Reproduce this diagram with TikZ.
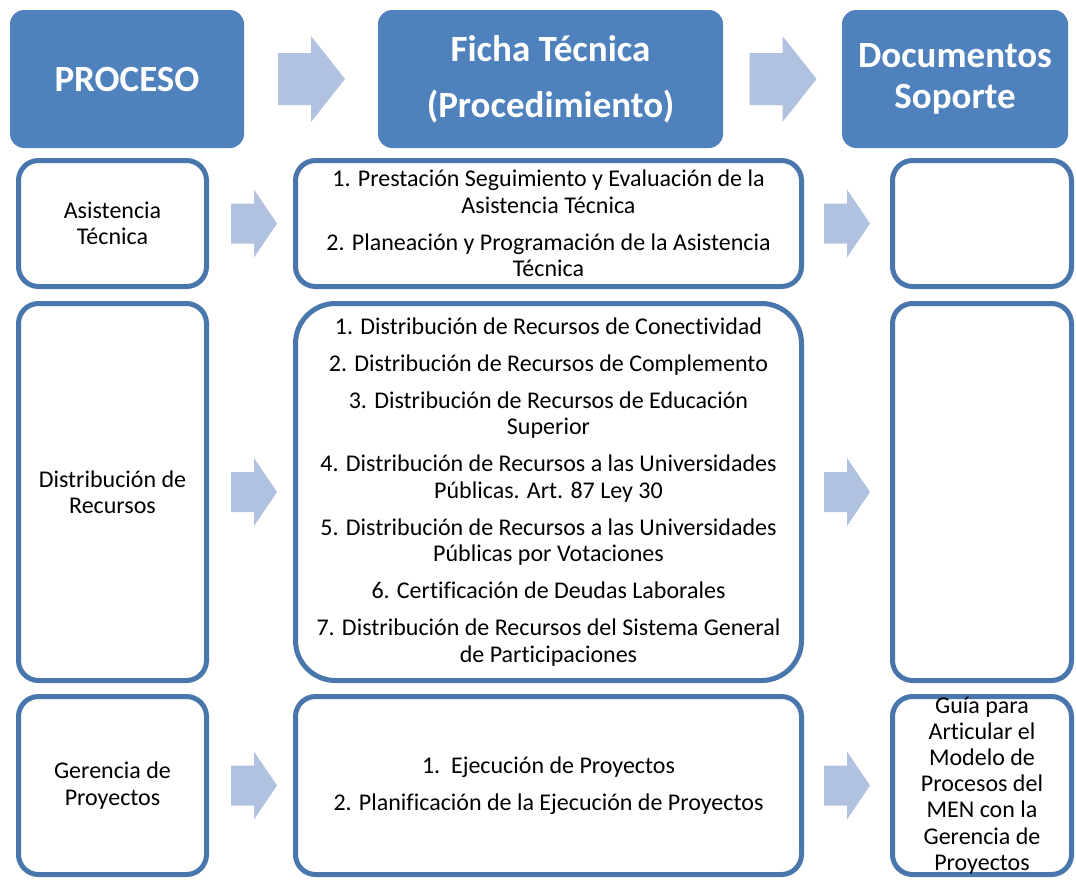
\documentclass[tikz,border=0pt]{standalone}
\usepackage{fontspec}
\setmainfont{Carlito}[Ligatures=NoCommon]
\usetikzlibrary{calc}

\definecolor{azulcab}{HTML}{4F81BD}
\definecolor{azulborde}{HTML}{4A76AE}
\definecolor{azulflecha}{HTML}{B0C2DF}

\begin{document}
\begin{tikzpicture}[
    x=1pt, y=-1pt,
    cabecera/.style={fill=azulcab, text=white, rounded corners=14pt, align=center, inner sep=0pt, minimum height=138pt, font=\fontsize{37}{44}\selectfont\bfseries},
    caja/.style={draw=azulborde, line width=5pt, fill=white, rounded corners=20pt, align=center, inner sep=2pt, font=\fontsize{24}{26.5}\selectfont},
    texto/.style={align=center, inner sep=0pt, font=\fontsize{24}{26.2}\selectfont},
    flecha/.style={fill=azulflecha, draw=none},
    flechagrande/.pic={\fill[flecha] (-33,-26) -- (0,-26) -- (0,-43) -- (34,0) -- (0,43) -- (0,26) -- (-33,26) -- cycle;},
    flechachica/.pic={\fill[flecha] (-23,-20) -- (0,-20) -- (0,-34) -- (23,0) -- (0,34) -- (0,20) -- (-23,20) -- cycle;}
]

% Marco de la figura
\useasboundingbox (0,0) rectangle (1076,879);

% Cabeceras
\node[cabecera, minimum width=234pt] (proceso) at (127,79) {PROCESO};
\node[cabecera, minimum width=345pt] (ficha) at (550.5,79) {Ficha Técnica\\[12pt](Procedimiento)};
\node[cabecera, minimum width=226pt, font=\fontsize{37}{41}\selectfont\bfseries] (docs) at (955,79) {Documentos\\Soporte};

% Fila 1 : Asistencia Técnica
\node[caja, minimum width=188pt, minimum height=126pt] (asistencia) at (112.5,223.5) {Asistencia\\Técnica};
\node[caja, minimum width=506pt, minimum height=126pt] (fichaA) at (548.5,223.5) {1. Prestación Seguimiento y Evaluación de la\\Asistencia Técnica\\[10.5pt]2. Planeación y Programación de la Asistencia\\Técnica};
\node[caja, minimum width=179pt, minimum height=126pt] (docsA) at (982,223.5) {};

% Fila 2 : Distribución de Recursos
\node[caja, minimum width=188pt, minimum height=377pt] (distribucion) at (112.5,492) {Distribución de\\Recursos};
\node[caja, minimum width=506pt, minimum height=377pt, rounded corners=40pt] (fichaB) at (548.5,492) {1. Distribución de Recursos de Conectividad\\[10.5pt]2. Distribución de Recursos de Complemento\\[10.5pt]3. Distribución de Recursos de Educación\\Superior\\[10.5pt]4. Distribución de Recursos a las Universidades\\Públicas. Art. 87 Ley 30\\[10.5pt]5. Distribución de Recursos a las Universidades\\Públicas por Votaciones\\[10.5pt]6. Certificación de Deudas Laborales\\[10.5pt]7. Distribución de Recursos del Sistema General\\de Participaciones};
\node[caja, minimum width=179pt, minimum height=377pt] (docsB) at (982,492) {};

% Fila 3 : Gerencia de Proyectos
\node[caja, minimum width=188pt, minimum height=178pt] (gerencia) at (112.5,785.5) {Gerencia de\\Proyectos};
\node[caja, minimum width=506pt, minimum height=178pt] (fichaC) at (548.5,785.5) {1.\ \ Ejecución de Proyectos\\[11pt]2. Planificación de la Ejecución de Proyectos};
\node[caja, minimum width=179pt, minimum height=178pt] (docsC) at (982,785.5) {};
\node[texto] (guia) at (docsC) {Guía para\\Articular el\\Modelo de\\Procesos del\\MEN con la\\Gerencia de\\Proyectos};

% Flechas
\pic at ($(proceso.east)!0.5!(ficha.west)$) {flechagrande};
\pic at ($(ficha.east)!0.5!(docs.west)$) {flechagrande};
\pic at ($(asistencia.east)!0.5!(fichaA.west)+(3,0)$) {flechachica};
\pic at ($(fichaA.east)!0.5!(docsA.west)$) {flechachica};
\pic at ($(distribucion.east)!0.5!(fichaB.west)+(3,0)$) {flechachica};
\pic at ($(fichaB.east)!0.5!(docsB.west)$) {flechachica};
\pic at ($(gerencia.east)!0.5!(fichaC.west)+(3,0)$) {flechachica};
\pic at ($(fichaC.east)!0.5!(docsC.west)$) {flechachica};

\end{tikzpicture}
\end{document}
